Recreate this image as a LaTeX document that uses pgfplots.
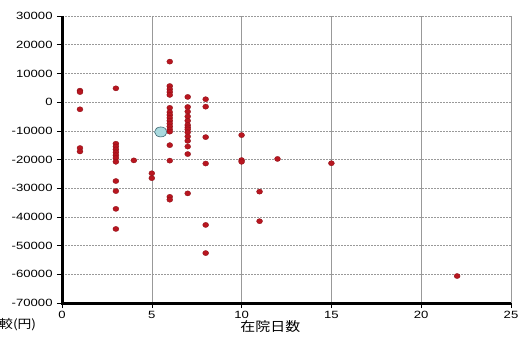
\documentclass[border=0pt]{standalone}
\usepackage{pgfplots}
\pgfplotsset{compat=1.18}
\usepackage{fontspec}
\setmainfont{Liberation Sans}
\newfontfamily\cjk{Noto Sans CJK JP}
\usetikzlibrary{calc}
\definecolor{dotred}{HTML}{B81620}
\definecolor{dotedge}{HTML}{8A0E14}
\definecolor{ellfill}{HTML}{A9D9DE}
\definecolor{elledge}{HTML}{3E6570}
\begin{document}
\begin{tikzpicture}
\begin{axis}[
 scale only axis, width=449pt, height=287pt,
 xmin=0,xmax=25,ymin=-70000,ymax=30000,
 xtick={0,5,...,25}, ytick={-70000,-60000,...,30000},
 scaled y ticks=false,
 axis x line*=bottom, axis y line*=left,
 axis line style={black, line width=1pt},
 tick align=outside, major tick length=5pt,
 tick style={black, line width=0.6pt},
 grid=major,
 x grid style={gray!80, line width=0.5pt},
 y grid style={gray!80, dash pattern=on 2pt off 1pt, line width=0.5pt},
 /pgf/number format/assume math mode=true,
 /pgf/number format/set thousands separator={},
 tick label style={font=\fontsize{10.5}{12}\selectfont, xscale=1.25},
 clip=false,
]
\addplot[only marks, mark=*, mark size=5pt, mark options={xscale=1.25, fill=ellfill, draw=elledge, line width=0.6pt}] coordinates {(5.5,-10400)};
\addplot[only marks, mark=*, mark size=2.6pt, mark options={xscale=1.15, fill=dotred, draw=dotedge, line width=0.3pt}] table {
x y
1 4000
1 3500
1 -2500
1 -16000
1 -17200
3 4800
3 -14500
3 -15500
3 -16500
3 -17500
3 -18500
3 -19500
3 -20800
3 -27500
3 -31000
3 -37200
3 -44200
4 -20300
5 -24800
5 -26500
6 14100
6 5600
6 4500
6 3500
6 2500
6 -2000
6 -3500
6 -4500
6 -5500
6 -6500
6 -7500
6 -8500
6 -9500
6 -10300
6 -15000
6 -20400
6 -33000
6 -34000
7 1800
7 -1700
7 -3300
7 -5000
7 -6500
7 -8000
7 -8800
7 -9500
7 -10500
7 -12000
7 -13500
7 -15500
7 -18100
7 -31800
8 1000
8 -1600
8 -12200
8 -21400
8 -42800
8 -52600
10 -11500
10 -20200
10 -20800
11 -31200
11 -41500
12 -19800
15 -21300
22 -60600
};
\draw[black, line width=3pt] (rel axis cs:0,1) -- (rel axis cs:0,0) -- (rel axis cs:1,0);
\coordinate (ll) at (rel axis cs:0,0);
\coordinate (ur) at (rel axis cs:1,1);
\coordinate (xl) at (axis cs:11.6,-70000);
\end{axis}
\node[font=\cjk\fontsize{13}{14}\selectfont, xscale=1.15] at ($(xl)+(0,-24pt)$) {在院日数};
\node[font=\cjk\fontsize{12}{13}\selectfont, xscale=1.15, anchor=west, inner sep=0pt] at ($(ll)+(-63pt,-22pt)$) {較(円)};
\pgfresetboundingbox
\path ($(ll)+(-62pt,-33pt)$) rectangle ($(ur)+(10pt,16pt)$);
\end{tikzpicture}
\end{document}
